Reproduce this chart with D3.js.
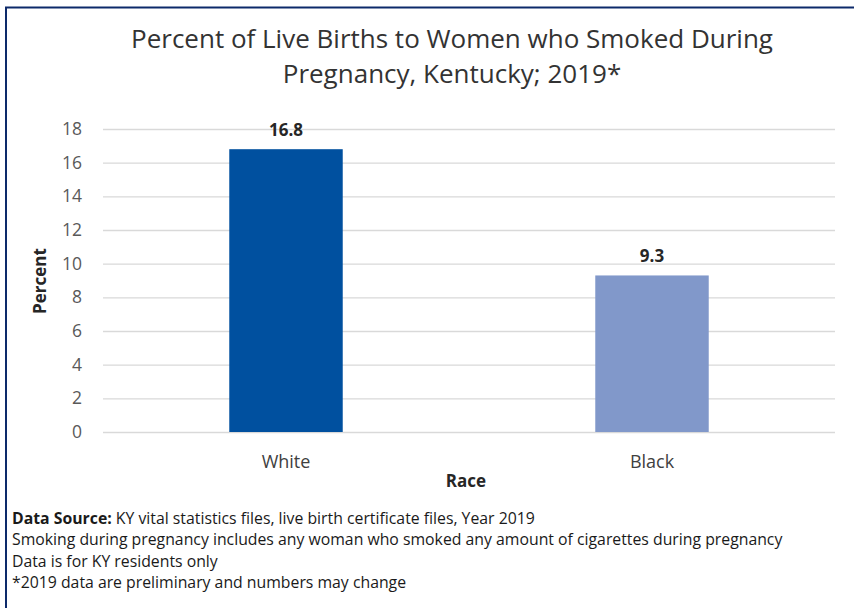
<!DOCTYPE html>
<html>
<head>
<meta charset="utf-8">
<script src="https://cdn.jsdelivr.net/npm/d3@7"></script>
<style>
  html, body { margin: 0; padding: 0; background: #fff; }
  svg { display: block; }
  text { font-family: "Open Sans", "Noto Sans", sans-serif; }
</style>
</head>
<body>
<svg id="chart" width="854" height="608"></svg>
<script>
// Smoking during pregnancy by race, Kentucky 2019
const categories = ["White", "Black"];
const values = [16.8, 9.3];
const barColors = ["#00509f", "#8198ca"];
const yTicks = [0, 2, 4, 6, 8, 10, 12, 14, 16, 18];
const titleLines = ["Percent of Live Births to Women who Smoked During", "Pregnancy, Kentucky; 2019*"];
const notes = [
  ["Data Source:", " KY vital statistics files, live birth certificate files, Year 2019"],
  ["", "Smoking during pregnancy includes any woman who smoked any amount of cigarettes during pregnancy"],
  ["", "Data is for KY residents only"],
  ["", "*2019 data are preliminary and numbers may change"]
];

const svg = d3.select("#chart");
const margin = { left: 103, right: 19, top: 129, bottom: 176 };
const W = 854, H = 608;
const plotW = W - margin.left - margin.right;
const plotH = H - margin.top - margin.bottom;

// frame
svg.append("path")
  .attr("d", `M6,608 L6,7.5 L854,7.5`)
  .attr("fill", "none").attr("stroke", "#0d2a6a").attr("stroke-width", 2);

const x = d3.scaleBand().domain(categories).range([0, plotW]).paddingInner(0.69).paddingOuter(0.345);
const y = d3.scaleLinear().domain([0, 18]).range([plotH, 0]);

const g = svg.append("g").attr("transform", `translate(${margin.left},${margin.top})`);

// gridlines
g.append("g").selectAll("line").data(yTicks).join("line")
  .attr("x1", 0).attr("x2", plotW)
  .attr("y1", d => y(d) + 0.5).attr("y2", d => y(d) + 0.5)
  .attr("stroke", "#d9d9d9").attr("stroke-width", 1.3);

// y axis labels
const yAxis = d3.axisLeft(y).tickValues(yTicks).tickSize(0).tickPadding(21);
const ya = g.append("g").call(yAxis);
ya.select(".domain").remove();
ya.selectAll("text").attr("font-size", 17.5).attr("fill", "#595959")
  .attr("font-family", "'Open Sans', sans-serif");

// bars
g.selectAll("rect.bar").data(categories).join("rect")
  .attr("class", "bar")
  .attr("x", d => x(d))
  .attr("width", x.bandwidth())
  .attr("y", (d, i) => y(values[i]))
  .attr("height", (d, i) => plotH - y(values[i]))
  .attr("fill", (d, i) => barColors[i]);

// value labels
g.selectAll("text.val").data(categories).join("text")
  .attr("class", "val")
  .attr("x", d => x(d) + x.bandwidth() / 2)
  .attr("y", (d, i) => y(values[i]) - 13)
  .attr("text-anchor", "middle")
  .attr("font-size", 17).attr("font-weight", "bold").attr("fill", "#262626")
  .text((d, i) => values[i].toFixed(1));

// x axis labels
const xAxis = d3.axisBottom(x).tickSize(0).tickPadding(23);
const xa = g.append("g").attr("transform", `translate(0,${plotH})`).call(xAxis);
xa.select(".domain").remove();
xa.selectAll("text").attr("font-size", 18).attr("fill", "#404040")
  .attr("font-family", "'Open Sans', sans-serif");

// axis titles
svg.append("text")
  .attr("x", 466).attr("y", 487)
  .attr("text-anchor", "middle")
  .attr("font-size", 17).attr("font-weight", "bold").attr("fill", "#262626")
  .text("Race");

svg.append("text")
  .attr("transform", "translate(46,281) rotate(-90)")
  .attr("text-anchor", "middle")
  .attr("font-size", 17).attr("font-weight", "bold").attr("fill", "#262626")
  .text("Percent");

// chart title
svg.append("g").selectAll("text").data(titleLines).join("text")
  .attr("x", 452)
  .attr("y", (d, i) => 48 + i * 35)
  .attr("text-anchor", "middle")
  .attr("font-size", 26).attr("fill", "#333")
  .attr("font-family", "'Open Sans', sans-serif")
  .text(d => d);

// footnotes
const nt = svg.append("g").selectAll("text").data(notes).join("text")
  .attr("x", 12)
  .attr("y", (d, i) => 524 + i * 21.3)
  .attr("font-size", 15.8).attr("fill", "#1a1a1a");
nt.append("tspan").attr("font-weight", "bold").text(d => d[0]);
nt.append("tspan").text(d => d[1]);
</script>
</body>
</html>
